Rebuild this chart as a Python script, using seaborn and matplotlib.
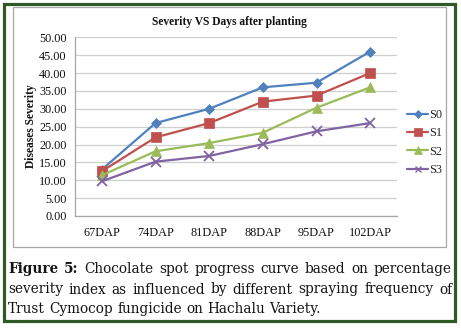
import matplotlib
matplotlib.use("Agg")
import matplotlib.pyplot as plt
from matplotlib.patches import Rectangle
from matplotlib.lines import Line2D
import seaborn as sns
import pandas as pd

# Data: disease severity per spraying schedule at each assessment date
days = ["67DAP", "74DAP", "81DAP", "88DAP", "95DAP", "102DAP"]
s0 = [13.0, 26.0, 30.0, 36.0, 37.3, 46.0]
s1 = [12.5, 22.0, 26.0, 32.0, 33.7, 40.0]
s2 = [11.4, 18.1, 20.4, 23.3, 30.3, 36.0]
s3 = [9.7, 15.2, 16.8, 20.1, 23.7, 26.0]
series_names = ["S0", "S1", "S2", "S3"]
y_ticks = [0, 5, 10, 15, 20, 25, 30, 35, 40, 45, 50]

title = "Severity VS Days after planting"
y_label = "Diseases Severity"
caption_lines = [
    [("Figure", True), ("5:", True), ("Chocolate", False), ("spot", False), ("progress", False),
     ("curve", False), ("based", False), ("on", False), ("percentage", False)],
    [("severity", False), ("index", False), ("as", False), ("influenced", False), ("by", False),
     ("different", False), ("spraying", False), ("frequency", False), ("of", False)],
    [("Trust", False), ("Cymocop", False), ("fungicide", False), ("on", False), ("Hachalu", False),
     ("Variety.", False)],
]

colors = {"S0": "#4F81BD", "S1": "#C0504D", "S2": "#9BBB59", "S3": "#8064A2"}
markers = {"S0": "D", "S1": "s", "S2": "^", "S3": "x"}
msizes = {"S0": 5.5, "S1": 7, "S2": 7, "S3": 6.5}

rows = []
for name, vals in zip(series_names, [s0, s1, s2, s3]):
    for d, v in zip(days, vals):
        rows.append({"DAP": d, "Severity": v, "Series": name})
df = pd.DataFrame(rows)

sns.set_theme(style="white")
plt.rcParams["font.family"] = ["Liberation Serif", "DejaVu Serif"]

W, H = 461, 328
fig = plt.figure(figsize=(W / 100, H / 100), dpi=100)
fig.patch.set_facecolor("white")

# Overlay in pixel coordinates for frame, box and caption
bg = fig.add_axes([0, 0, 1, 1])
bg.set_xlim(0, W)
bg.set_ylim(H, 0)
bg.axis("off")
bg.add_patch(Rectangle((3.5, 3.5), 451, 317.5, fill=False, edgecolor="#2f5a26", linewidth=2.3))
bg.add_patch(Rectangle((13, 7), 433, 240, fill=False, edgecolor="#a6a6a6", linewidth=0.9))

# Plot area
left, right, top, bottom = 75, 397, 37.3, 216
ax = fig.add_axes([left / W, (H - bottom) / H, (right - left) / W, (bottom - top) / H])
for name in series_names:
    sub = df[df["Series"] == name]
    c = colors[name]
    sns.lineplot(data=sub, x="DAP", y="Severity", color=c, marker=markers[name],
                 markersize=msizes[name], markeredgecolor=c, markerfacecolor=c,
                 markeredgewidth=1.3 if name == "S3" else 0.5,
                 sort=False, linewidth=1.6, ax=ax, legend=False)

ax.set_xlim(-0.5, len(days) - 0.5)
ax.set_ylim(0, 50)
ax.set_yticks(y_ticks)
ax.set_yticklabels([f"{v:.2f}" for v in y_ticks])
ax.set_xticks(range(len(days)))
ax.set_xticklabels(days)
ax.tick_params(axis="both", length=0, labelsize=8.8, colors="#111111")
ax.tick_params(axis="y", pad=6)
ax.tick_params(axis="x", pad=8)
ax.grid(axis="y", color="#cfcfcf", linewidth=0.9)
ax.set_axisbelow(True)
for side in ["top", "right"]:
    ax.spines[side].set_visible(False)
for side in ["left", "bottom"]:
    ax.spines[side].set_color("#a6a6a6")
    ax.spines[side].set_linewidth(0.9)
ax.set_xlabel("")
ax.set_ylabel("")
ax.patch.set_alpha(0)

bg.text(229, 22.5, title, ha="center", va="center", fontsize=8.3, fontweight="bold", color="#111111")
bg.text(31, 126.5, y_label, ha="center", va="center", rotation=90, fontsize=8.3,
        fontweight="bold", color="#111111")

# Legend
handles = [Line2D([], [], color=colors[n], marker=markers[n], markersize=msizes[n] - 1.5,
                  markeredgecolor=colors[n], markerfacecolor=colors[n],
                  markeredgewidth=1.0 if n == "S3" else 0.5, linewidth=1.6)
           for n in series_names]
fig.legend(handles, series_names, loc="upper left", bbox_to_anchor=(402 / W, (H - 104) / H),
           frameon=False, fontsize=8.8, handlelength=1.75, handletextpad=0.1,
           labelspacing=0.52, borderaxespad=0)

# Justified caption, sized so the last (ragged) line ends where the text block ends
fig.canvas.draw()
renderer = fig.canvas.get_renderer()
cap_left, cap_right, last_end = 8, 452, 323
baselines = [273, 293.5, 313]
cap_font = ["DejaVu Serif"]

probe = [bg.text(0, 0, w, fontsize=10, family=cap_font) for w, _ in caption_lines[-1]]
space = bg.text(0, 0, "a a", fontsize=10, family=cap_font)
aa = bg.text(0, 0, "aa", fontsize=10, family=cap_font)
sp_w = space.get_window_extent(renderer).width - aa.get_window_extent(renderer).width
nat = sum(t.get_window_extent(renderer).width for t in probe) + sp_w * (len(probe) - 1)
for t in probe + [space, aa]:
    t.remove()
cap_size = 10 * (last_end - cap_left) / nat

for i, (words, yb) in enumerate(zip(caption_lines, baselines)):
    texts = []
    for w, bold in words:
        t = bg.text(0, yb, w, ha="left", va="baseline", fontsize=cap_size, family=cap_font,
                    fontweight="bold" if bold else "normal", color="#141414")
        texts.append(t)
    widths = [t.get_window_extent(renderer).width for t in texts]
    if i == len(caption_lines) - 1:
        gap = sp_w * cap_size / 10
    else:
        gap = (cap_right - cap_left - sum(widths)) / (len(texts) - 1)
    x = cap_left
    for t, w in zip(texts, widths):
        t.set_x(x)
        x += w + gap

fig.savefig("out.png", dpi=100)
